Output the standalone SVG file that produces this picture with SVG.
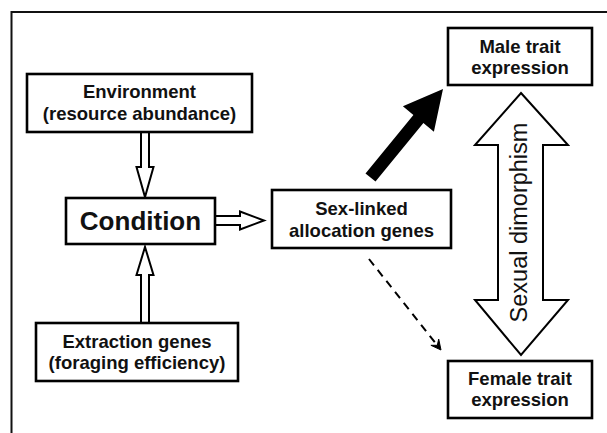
<svg xmlns="http://www.w3.org/2000/svg" width="607" height="433" viewBox="0 0 607 433">
<style>
.box{fill:#fff;stroke:#000;stroke-width:2.6}
.lbl{font-family:"Liberation Sans",Arial,sans-serif;font-weight:bold;font-size:18.5px;text-anchor:middle;fill:#111}
.hollow{fill:#fff;stroke:#000;stroke-width:2;stroke-linejoin:miter}
</style>
<rect width="607" height="433" fill="#fff"/>
<path d="M11.5,433 V12 H607" fill="none" stroke="#111" stroke-width="2"/>
<g id="connectors">
  <polygon class="hollow" points="141,132 149,132 149,167 153.5,167 145,197 136.5,167 141,167"/>
  <polygon class="hollow" points="141,323 149,323 149,275 153.5,275 145,247 136.5,275 141,275"/>
  <polygon class="hollow" points="215,216 240,216 240,211.5 264,220.5 240,229.5 240,225 215,225"/>
  <polygon fill="#000" points="365.5,173.4 375.5,181.6 423.4,123.1 433.9,131.7 443,89 402.9,106.3 413.4,114.9"/>
  <line x1="369" y1="259" x2="437" y2="345" stroke="#000" stroke-width="2" stroke-dasharray="8,6"/>
  <path d="M441,350 L438.7,339.1 L437.3,345.3 L430.9,345.3 Z" fill="#000" stroke="#000" stroke-width="1"/>
  <polygon class="hollow" stroke-width="2.4" points="521,93 568,145 543,145 543,300 568,300 521,355 475,300 498,300 498,145 475,145"/>
  <text x="527" y="222.5" transform="rotate(-90 527 222.5)" font-family="Liberation Sans, Arial, sans-serif" font-size="23.5" text-anchor="middle" fill="#111">Sexual dimorphism</text>
</g>
<g id="environment">
  <rect class="box" x="27" y="74" width="225" height="58"/>
  <text class="lbl" x="139.5" y="98">Environment</text>
  <text class="lbl" x="139.5" y="120">(resource abundance)</text>
</g>
<g id="condition">
  <rect class="box" x="66" y="198" width="149" height="46"/>
  <text class="lbl" x="140.5" y="230" font-size="26" style="font-size:26px">Condition</text>
</g>
<g id="extraction">
  <rect class="box" x="36" y="323" width="202" height="58"/>
  <text class="lbl" x="137" y="348">Extraction genes</text>
  <text class="lbl" x="137" y="369">(foraging efficiency)</text>
</g>
<g id="sexlinked">
  <rect class="box" x="272" y="190" width="179" height="58"/>
  <text class="lbl" x="361.5" y="215">Sex-linked</text>
  <text class="lbl" x="361.5" y="237">allocation genes</text>
</g>
<g id="male">
  <rect class="box" x="448" y="28" width="144" height="57"/>
  <text class="lbl" x="520" y="53">Male trait</text>
  <text class="lbl" x="520" y="74">expression</text>
</g>
<g id="female">
  <rect class="box" x="448" y="361" width="144" height="57"/>
  <text class="lbl" x="520" y="385">Female trait</text>
  <text class="lbl" x="520" y="406">expression</text>
</g>
</svg>
